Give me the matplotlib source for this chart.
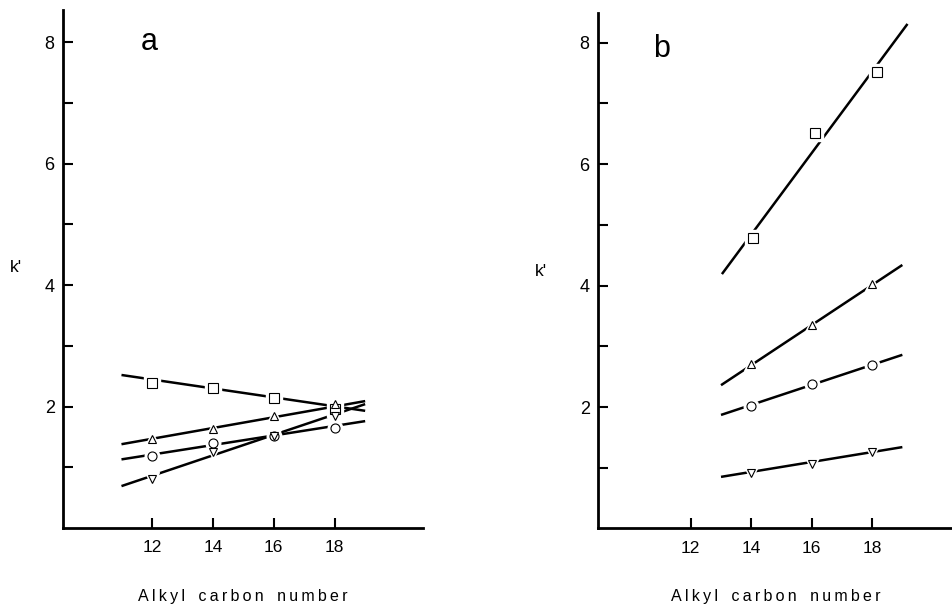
import numpy as np
import matplotlib
matplotlib.use("Agg")
import matplotlib.pyplot as plt

plt.rcParams['font.family'] = ['Liberation Sans', 'DejaVu Sans']

# panel a: measured k' vs alkyl carbon number
carbon_a = [12, 14, 16, 18]
square_a = [2.39, 2.31, 2.14, 1.96]
tri_up_a = [1.47, 1.63, 1.85, 2.04]
circle_a = [1.19, 1.40, 1.52, 1.65]
tri_dn_a = [0.81, 1.25, 1.52, 1.84]
# fitted lines (x from 11 to 19)
fit_x_a = [11, 19]
fit_square_a = [2.52, 1.93]
fit_tri_up_a = [1.38, 2.09]
fit_circle_a = [1.13, 1.76]
fit_tri_dn_a = [0.69, 2.04]

# panel b
carbon_b = [14, 16, 18]
square_x_b = [14.05, 16.1, 18.15]
square_b = [4.78, 6.52, 7.52]
tri_up_b = [2.71, 3.35, 4.03]
circle_b = [2.02, 2.38, 2.69]
tri_dn_b = [0.91, 1.06, 1.26]
fit_x_b = [13, 19]
fit_square_x_b = [13.03, 19.17]
fit_square_b = [4.19, 8.31]
fit_tri_up_b = [2.36, 4.34]
fit_circle_b = [1.87, 2.86]
fit_tri_dn_b = [0.85, 1.34]

x_ticks = [12, 14, 16, 18]
y_major = [2, 4, 6, 8]
y_minor = [1, 3, 5, 7]

xlabel = '\u2009'.join('Alkyl') + '   ' + '\u2009'.join('carbon') + '   ' + '\u2009'.join('number')

fig = plt.figure(figsize=(9.53, 6.05), dpi=100)
ax_a = fig.add_axes([0.0661, 0.1273, 0.3778, 0.856])
ax_b = fig.add_axes([0.6275, 0.1265, 0.372, 0.852])


def draw_series(ax, fx, fy, px, py, marker, ms):
    ax.plot(fx, fy, '-', color='black', lw=1.8, solid_capstyle='butt', zorder=2)
    ax.plot(px, py, linestyle='none', marker=marker, ms=ms + 4, mfc='white',
            mec='white', zorder=3)
    ax.plot(px, py, linestyle='none', marker=marker, ms=ms, mfc='white',
            mec='black', mew=0.8, zorder=4)


def style(ax, xlim, ylim):
    ax.set_xlim(*xlim)
    ax.set_ylim(*ylim)
    for s in ['top', 'right']:
        ax.spines[s].set_visible(False)
    for s in ['left', 'bottom']:
        ax.spines[s].set_linewidth(2)
    ax.set_xticks(x_ticks)
    ax.set_yticks(y_major)
    ax.set_yticks(y_minor, minor=True)
    ax.tick_params(axis='both', which='both', direction='in', length=7,
                   width=1.5)
    ax.tick_params(axis='x', pad=9, labelsize=12.5)
    ax.tick_params(axis='y', pad=6, labelsize=13)
    ax.set_xlabel(xlabel, fontsize=11.5, labelpad=24)


draw_series(ax_a, fit_x_a, fit_square_a, carbon_a, square_a, 's', 7)
draw_series(ax_a, fit_x_a, fit_tri_up_a, carbon_a, tri_up_a, '^', 6)
draw_series(ax_a, fit_x_a, fit_circle_a, carbon_a, circle_a, 'o', 6.5)
draw_series(ax_a, fit_x_a, fit_tri_dn_a, carbon_a, tri_dn_a, 'v', 6)
style(ax_a, (9.08, 20.9), (0, 8.53))
ax_a.text(0.24, 0.938, 'a', transform=ax_a.transAxes, fontsize=22,
          ha='center', va='center')

draw_series(ax_b, fit_square_x_b, fit_square_b, square_x_b, square_b, 's', 7)
draw_series(ax_b, fit_x_b, fit_tri_up_b, carbon_b, tri_up_b, '^', 6)
draw_series(ax_b, fit_x_b, fit_circle_b, carbon_b, circle_b, 'o', 6.5)
draw_series(ax_b, fit_x_b, fit_tri_dn_b, carbon_b, tri_dn_b, 'v', 6)
style(ax_b, (8.93, 20.66), (0, 8.49))
ax_b.text(0.18, 0.93, 'b', transform=ax_b.transAxes, fontsize=22,
          ha='center', va='center')

fig.text(16 / 953, 1 - 268 / 605, "k'", fontsize=12.5, ha='center', va='center')
fig.text(541 / 953, 1 - 272 / 605, "k'", fontsize=12.5, ha='center', va='center')

fig.savefig('out.png', dpi=100)
